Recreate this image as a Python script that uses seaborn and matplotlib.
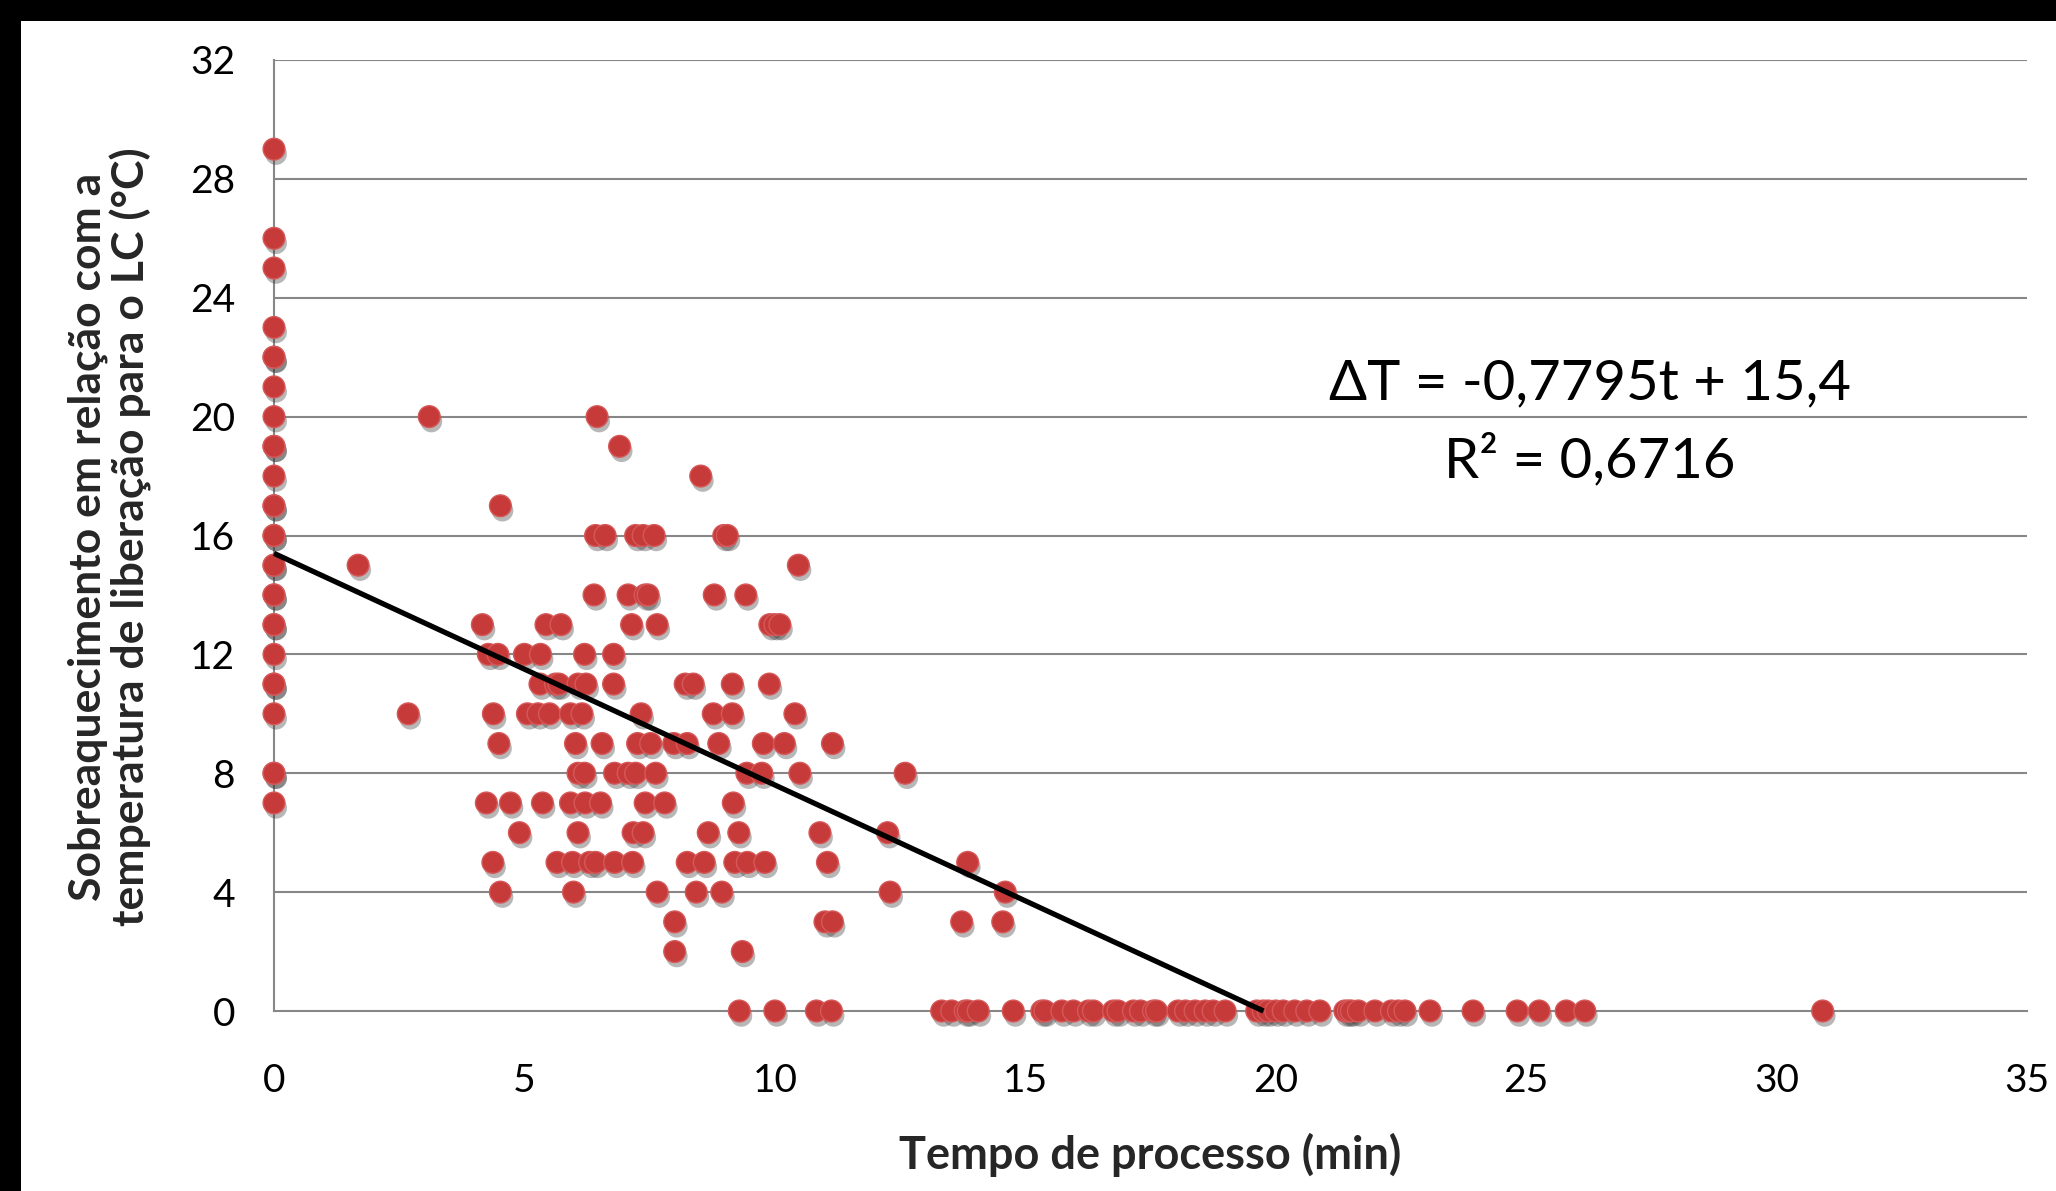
import matplotlib
matplotlib.use("Agg")
import matplotlib.pyplot as plt
import matplotlib.patheffects as pe
from matplotlib.patches import Rectangle
from matplotlib.ticker import MultipleLocator
import numpy as np
import pandas as pd
import seaborn as sns

# ---------------- data ----------------
# points at t = 0 min (superheat values, duplicates = overlapping points)
t0_superheat = [29, 26, 25, 23, 22, 22, 21, 20, 19, 19, 18, 17, 17, 16, 16,
                15, 15, 14, 14, 13, 13, 12, 11, 11, 10, 8, 8, 7]

# scattered points (time, superheat)
scatter_time = [3.1, 6.45,
                6.9,
                8.52,
                4.52,
                6.42, 6.61, 7.22, 7.37, 7.59, 8.98, 9.05,
                1.68, 10.47,
                6.39, 7.07, 7.41, 7.47, 8.79, 9.42,
                4.16, 5.43, 5.73, 7.14, 7.65, 9.9, 10.0, 10.1,
                4.28, 4.47, 5.0, 5.32, 6.2, 6.78,
                5.31, 5.62, 5.69, 6.07, 6.23, 6.78, 8.21, 8.37, 9.15, 9.89,
                2.68, 4.38, 5.06, 5.27, 5.5, 5.92, 6.15, 7.33, 8.77, 9.15, 10.4,
                4.49, 6.02, 6.55, 7.26, 7.52, 7.98, 8.25, 8.88, 9.77, 10.19, 11.15,
                6.07, 6.2, 6.8, 7.07, 7.22, 7.62, 9.44, 9.74, 10.5, 12.6,
                4.24, 4.72, 5.36, 5.92, 6.21, 6.52, 7.41, 7.8, 9.17,
                4.9, 6.07, 7.17, 7.37, 8.67, 9.28, 10.9, 12.25,
                4.37, 5.65, 5.96, 6.3, 6.42, 6.8, 7.16, 8.25, 8.59, 9.2, 9.45, 9.8, 11.05, 13.85,
                4.52, 5.98, 7.65, 8.43, 8.94, 12.3, 14.6,
                8.0, 11.0, 11.15, 13.73, 14.55,
                8.0, 9.35]
scatter_superheat = [20, 20,
                     19,
                     18,
                     17,
                     16, 16, 16, 16, 16, 16, 16,
                     15, 15,
                     14, 14, 14, 14, 14, 14,
                     13, 13, 13, 13, 13, 13, 13, 13,
                     12, 12, 12, 12, 12, 12,
                     11, 11, 11, 11, 11, 11, 11, 11, 11, 11,
                     10, 10, 10, 10, 10, 10, 10, 10, 10, 10, 10,
                     9, 9, 9, 9, 9, 9, 9, 9, 9, 9, 9,
                     8, 8, 8, 8, 8, 8, 8, 8, 8, 8,
                     7, 7, 7, 7, 7, 7, 7, 7, 7,
                     6, 6, 6, 6, 6, 6, 6, 6,
                     5, 5, 5, 5, 5, 5, 5, 5, 5, 5, 5, 5, 5, 5,
                     4, 4, 4, 4, 4, 4, 4,
                     3, 3, 3, 3, 3,
                     2, 2]

# points with zero superheat (time values)
zero_superheat_time = [9.29, 10.0, 10.83, 11.13, 13.33, 13.53, 13.8, 13.86, 14.06,
                       14.76, 15.33, 15.39, 15.73, 15.96, 16.26, 16.36, 16.76, 16.85,
                       17.16, 17.3, 17.56, 17.62, 18.05, 18.2, 18.39, 18.59, 18.75,
                       18.99, 19.62, 19.75, 19.85, 20.0, 20.15, 20.38, 20.62, 20.88,
                       21.38, 21.45, 21.51, 21.65, 21.98, 22.31, 22.45, 22.58, 23.08,
                       23.94, 24.82, 25.26, 25.8, 26.17, 30.92]

# linear trend line: dT = slope * t + intercept
trend_slope = -0.7795
trend_intercept = 15.4
equation_text = "ΔT = -0,7795t + 15,4"
r2_text = "R² = 0,6716"

x_label = "Tempo de processo (min)"
y_label = "Sobreaquecimento em relação com a\ntemperatura de liberação para o LC (°C)"
x_ticks = [0, 5, 10, 15, 20, 25, 30, 35]
y_ticks = [0, 4, 8, 12, 16, 20, 24, 28, 32]

time_all = [0.0] * len(t0_superheat) + scatter_time + zero_superheat_time
sh_all = t0_superheat + scatter_superheat + [0] * len(zero_superheat_time)
df = pd.DataFrame({"t": time_all, "dT": sh_all})

# ---------------- figure ----------------
W, H = 2056, 1191
sns.set_style("white")
plt.rcParams["font.family"] = ["Lato", "DejaVu Sans"]

fig = plt.figure(figsize=(W / 100, H / 100), dpi=100)
fig.patch.set_facecolor("white")
ax_l, ax_r, ax_t, ax_b = 274, 2027, 60, 1011
ax = fig.add_axes([ax_l / W, 1 - ax_b / H, (ax_r - ax_l) / W, (ax_b - ax_t) / H])

grid_col = "#878787"
for yv in y_ticks[1:]:
    ax.axhline(yv, color=grid_col, lw=1.5, zorder=0)

sns.scatterplot(data=df, x="t", y="dT", ax=ax, s=245, color="#C63A3A",
                edgecolor="#D65858", linewidth=1.0, clip_on=False, zorder=3,
                legend=False)
coll = ax.collections[-1]
coll.set_path_effects([pe.SimplePatchShadow(offset=(1.5, -3.5), alpha=0.35,
                                            shadow_rgbFace="#333333"),
                       pe.Normal()])

t_end = -trend_intercept / trend_slope
tx = np.array([0.0, t_end])
ax.plot(tx, trend_slope * tx + trend_intercept, color="black", lw=3.8,
        zorder=4, solid_capstyle="butt", clip_on=False)

ax.set_xlim(0, 35)
ax.set_ylim(0, 32)
ax.set_xticks(x_ticks)
ax.set_yticks(y_ticks)
ax.xaxis.set_minor_locator(MultipleLocator(1))
ax.yaxis.set_minor_locator(MultipleLocator(1))
ax.set_xlabel("")
ax.set_ylabel("")

for s in ["top", "right"]:
    ax.spines[s].set_visible(False)
for s in ["left", "bottom"]:
    ax.spines[s].set_color(grid_col)
    ax.spines[s].set_linewidth(1.5)
    ax.spines[s].set_zorder(1)

ax.tick_params(axis="x", which="major", direction="inout", length=17, width=1.5,
               color=grid_col, labelsize=28, pad=29, labelcolor="black")
ax.tick_params(axis="x", which="minor", direction="inout", length=14, width=1.5,
               color=grid_col)
ax.tick_params(axis="y", which="major", direction="out", length=9, width=1.5,
               color=grid_col, labelsize=28, pad=19, labelcolor="black")
ax.tick_params(axis="y", which="minor", direction="in", length=7, width=1.5,
               color=grid_col)

# equation annotation
fig.text(1590 / W, 1 - 384 / H, equation_text, fontsize=40.5, ha="center",
         va="center", color="black")
fig.text(1590 / W, 1 - 461 / H, r2_text, fontsize=40.5, ha="center",
         va="center", color="black")

# axis titles
fig.text(1150 / W, 1 - 1155 / H, x_label, fontsize=32.5, fontweight="bold",
         ha="center", va="center")
fig.text(110 / W, 1 - 537 / H, y_label, fontsize=32, fontweight="bold",
         rotation=90, ha="center", va="center", multialignment="center",
         linespacing=1.05)

# black frame bands (top and left)
fig.patches.append(Rectangle((0, 1 - 21 / H), 1, 21 / H, transform=fig.transFigure,
                             facecolor="black", edgecolor="none", zorder=10))
fig.patches.append(Rectangle((0, 0), 21 / W, 1, transform=fig.transFigure,
                             facecolor="black", edgecolor="none", zorder=10))

fig.savefig("out.png", dpi=100, facecolor="white")
